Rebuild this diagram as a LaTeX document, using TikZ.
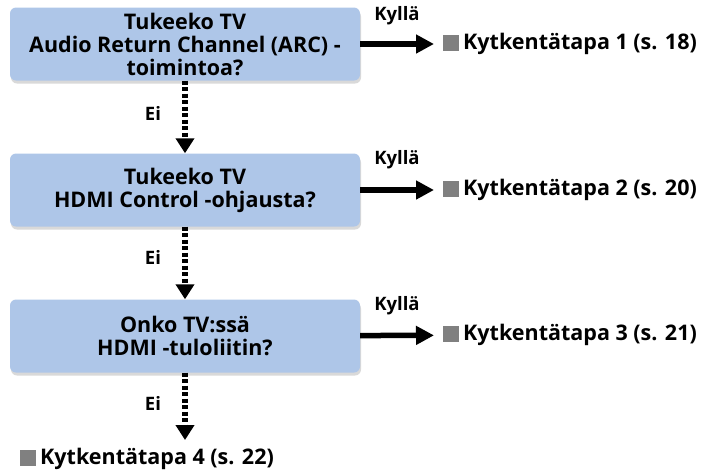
\documentclass[tikz,border=0pt]{standalone}
\usepackage{fontspec}
\setmainfont{Open Sans}
\usetikzlibrary{arrows.meta,shadows}
\definecolor{boxblue}{RGB}{174,198,232}
\definecolor{markgray}{RGB}{128,128,128}
\newcommand{\mrk}{\textcolor{markgray}{\rule[-1pt]{16pt}{16pt}}\hspace{4pt}}
\begin{document}
\begin{tikzpicture}[x=1pt,y=-1pt,
        question/.style={rectangle,rounded corners=6pt,fill=boxblue,
            minimum width=350,minimum height=73,align=center,inner sep=0pt,
            font=\bfseries\fontsize{21.5}{23}\selectfont,
            drop shadow={shadow xshift=1pt,shadow yshift=-3pt,fill=black!15,opacity=1}},
        result/.style={anchor=west,inner sep=0pt,font=\bfseries\fontsize{21.5}{23}\selectfont},
        answer/.style={font=\bfseries\fontsize{18.5}{20}\selectfont},
        yes/.style={line width=5.5pt,shorten >=9pt,-{Triangle[length=18pt,width=18pt]}},
        no/.style={line width=5.5pt,dash pattern=on 4pt off 2.5pt,-{Triangle[length=15pt,width=18pt]}}]
        \useasboundingbox (0,0) rectangle (702,475);
        \node[question] (q1) at (185,44) {Tukeeko TV\\Audio Return Channel (ARC) -\\toimintoa?};
        \node[question] (q2) at (185,190) {Tukeeko TV\\HDMI Control -ohjausta?};
        \node[question] (q3) at (185,336) {Onko TV:ssä\\HDMI -tuloliitin?};
        \node[result] (r1) at (443,44) {\mrk Kytkentätapa 1 (s. 18)};
        \node[result] (r2) at (443,190) {\mrk Kytkentätapa 2 (s. 20)};
        \node[result] (r3) at (443,335) {\mrk Kytkentätapa 3 (s. 21)};
        \node[result] (r4) at (20,459) {\mrk Kytkentätapa 4 (s. 22)};
        \node[answer] (y1) at (397,16) {Kyllä};
        \node[answer] (y2) at (397,160) {Kyllä};
        \node[answer] (y3) at (397,306) {Kyllä};
        \node[answer] (n1) at (153,113) {Ei};
        \node[answer] (n2) at (153,257) {Ei};
        \node[answer] (n3) at (153,403) {Ei};
        \draw[yes] (q1) -- (r1);
        \draw[yes] (q2) -- (r2);
        \draw[yes] (q3) -- (r3);
        \draw[no] (q1.south) -- (q2.north);
        \draw[no] (q2.south) -- (q3.north);
        \draw[no] (q3.south) -- ([yshift=8pt]q3.south |- r4.north);
    \end{tikzpicture}
\end{document}
